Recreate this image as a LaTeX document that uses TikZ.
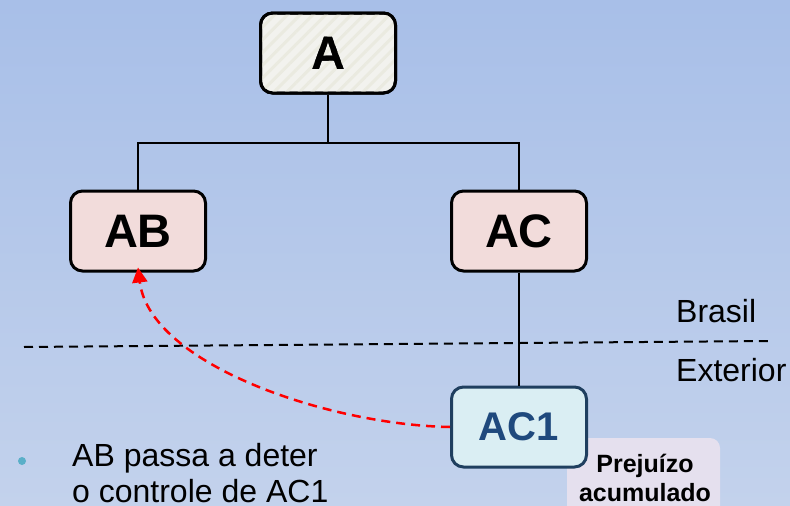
\documentclass[tikz,border=0pt]{standalone}
\usepackage{fontspec}
\setmainfont{Liberation Sans}
\usetikzlibrary{patterns.meta,arrows.meta}
\definecolor{bgtop}{HTML}{A8BFE8}
\definecolor{bgbot}{HTML}{C3D2EC}
\definecolor{topfill}{HTML}{F2F2EE}
\definecolor{topstripe}{HTML}{EAEAE0}
\definecolor{midfill}{HTML}{F2DCDB}
\definecolor{subfill}{HTML}{DAEEF3}
\definecolor{subline}{HTML}{1F3F5F}
\definecolor{subtext}{HTML}{1F497D}
\definecolor{notefill}{HTML}{E5E0EE}
\definecolor{bulletcol}{HTML}{5AAFC8}
\tikzset{
  unit/.style={draw=black, line width=3pt, rounded corners=12pt,
    minimum width=135pt, minimum height=80pt, inner sep=0pt,
    font=\fontsize{47}{52}\selectfont\bfseries},
  link/.style={draw=black, line width=2pt},
  sideword/.style={anchor=base west, inner sep=0pt, font=\fontsize{32}{38}\selectfont},
}
\begin{document}
\begin{tikzpicture}[x=1pt,y=-1pt]
  \useasboundingbox (0,0) rectangle (790,506);
  \shade[top color=bgtop, bottom color=bgbot] (0,0) rectangle (790,506);
  \begin{scope}
    \clip (0,0) rectangle (790,506);
    % note box behind the foreign subsidiary
    \fill[notefill, rounded corners=10pt] (567,438) rectangle (720,530);
  \end{scope}
  \node[anchor=base, inner sep=0pt, align=center,
        font=\fontsize{25}{29}\selectfont\bfseries] (note) at (645,501)
        {Prejuízo\\acumulado};

  % border between countries
  \draw[black, line width=2pt, dash pattern=on 9pt off 6pt] (24,347) coordinate (b1) -- (768,341) coordinate (b2);
  \node[sideword] (br) at (676,322) {Brasil};
  \node[sideword] (ex) at (676,381) {Exterior};

  % companies
  \node[unit, fill=topfill] (A) at (328,53) {A};
  \fill[pattern={Lines[angle=45,distance=9pt,line width=3pt]}, pattern color=topstripe,
        rounded corners=11pt] (261,14) rectangle (395,93);
  \node[unit, fill=none] (A2) at (328,53) {A};
  \node[unit, fill=midfill] (AB) at (138,231) {AB};
  \node[unit, fill=midfill] (AC) at (519,231) {AC};
  \node[unit, fill=subfill, draw=subline, text=subtext,
        font=\fontsize{40}{46}\selectfont\bfseries] (AC1) at (519,427) {AC1};

  % ownership lines
  \coordinate (j) at (328,143);
  \draw[link] (A.south) -- (j);
  \draw[link] (AB.north) |- (j) -| (AC.north);
  \draw[link, line width=2.5pt] (AC.south) -- (AC1.north);

  % transfer of control
  \draw[red, line width=2.5pt, dash pattern=on 9pt off 6pt,
        -{Triangle[length=15pt,width=15pt]}]
    (AC1.west) .. controls (330,425) and (150,365) .. ([yshift=5pt]AB.south);

  % bullet
  \fill[bulletcol] (22,461) circle (4pt) coordinate (dot);
  \node[sideword] (t1) at (72,466) {AB passa a deter};
  \node[sideword] (t2) at (72,502) {o controle de AC1};
\end{tikzpicture}
\end{document}
